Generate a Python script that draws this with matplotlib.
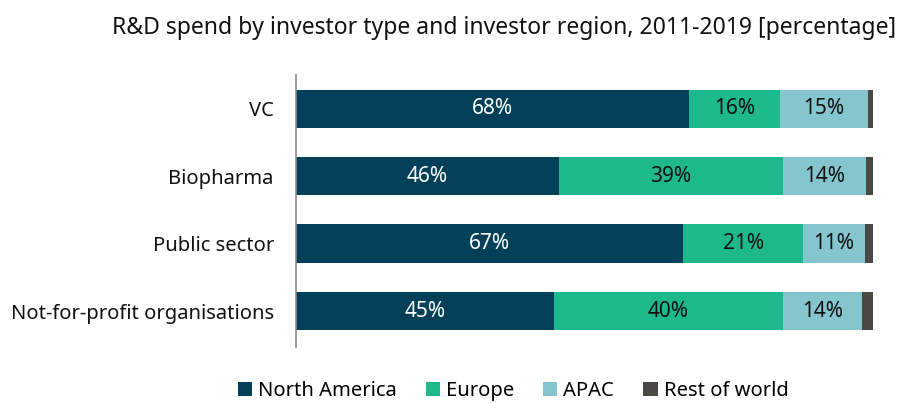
import matplotlib
matplotlib.use("Agg")
import matplotlib.pyplot as plt
from matplotlib.patches import Patch

categories = ["VC", "Biopharma", "Public sector", "Not-for-profit organisations"]
north_america = [68.1, 45.6, 67.1, 44.7]
europe = [15.8, 38.8, 20.8, 39.7]
apac = [15.2, 14.4, 10.7, 13.7]
rest_of_world = [0.9, 1.2, 1.4, 1.9]
series_names = ["North America", "Europe", "APAC", "Rest of world"]
colors = ["#02405A", "#1DB88C", "#84C5CE", "#4B4946"]
label_colors = ["white", "#111111", "#111111", None]

plt.rcParams['font.family'] = ['Noto Sans', 'DejaVu Sans']

fig = plt.figure(figsize=(9.03, 4.03), dpi=100)
ax = fig.add_axes([296/903, 1-347/403, 577/903, (347-75)/403])

y = list(range(len(categories)))
series = [north_america, europe, apac, rest_of_world]
left = [0.0]*len(categories)
for vals, col, lc in zip(series, colors, label_colors):
    ax.barh(y, vals, left=left, height=0.57, color=col, edgecolor='none')
    if lc is not None:
        for yi, v, l in zip(y, vals, left):
            ax.text(l + v/2, yi, f"{round(v):.0f}%", ha='center', va='center',
                    color=lc, fontsize=15)
    left = [a+b for a, b in zip(left, vals)]

ax.set_xlim(0, 100)
ax.set_ylim(3.53, -0.5)
ax.set_yticks(y)
ax.set_yticklabels(categories, fontsize=14.5, color='#111111')
ax.tick_params(axis='y', length=0, pad=16)
ax.set_xticks([])
for s in ['top', 'right', 'bottom']:
    ax.spines[s].set_visible(False)
ax.spines['left'].set_color('#8a8a8a')
ax.spines['left'].set_linewidth(1.2)

fig.text(504/903, 1-28/403, "R&D spend by investor type and investor region, 2011-2019 [percentage]",
         ha='center', va='center', fontsize=16.5, color='#111111')

handles = [Patch(facecolor=c, edgecolor='none') for c in colors]
fig.legend(handles, series_names, loc='center', bbox_to_anchor=(513/903, 1-391/403),
           ncol=4, frameon=False, fontsize=14.5, handlelength=0.7, handleheight=0.7,
           handletextpad=0.3, columnspacing=1.45, borderaxespad=0, borderpad=0)

fig.savefig("out.png", dpi=100)
